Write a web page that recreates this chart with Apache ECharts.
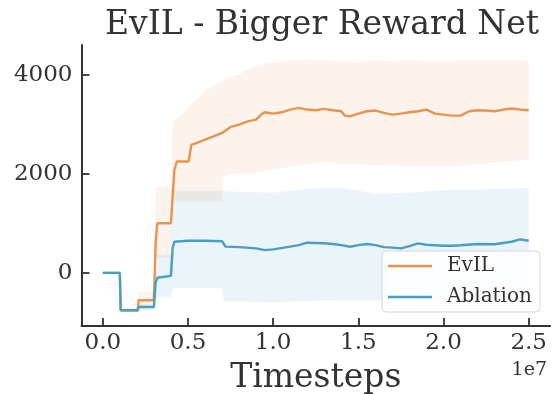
<!DOCTYPE html>
<html>
<head>
<meta charset="utf-8">
<script src="https://cdn.jsdelivr.net/npm/echarts@6/dist/echarts.min.js"></script>
<style>
  html, body { margin: 0; padding: 0; background: #fff; }
  #chart { width: 553px; height: 394px; }
</style>
</head>
<body>
<div id="chart"></div>
<script>
// Timesteps are stored in units of 1e7.
const evilX = [0, 0.10, 0.105, 0.205, 0.21, 0.30, 0.31, 0.32, 0.40, 0.42, 0.435, 0.504, 0.52, 0.55, 0.6, 0.65, 0.7, 0.75, 0.8, 0.85, 0.9, 0.93, 0.95, 1.0, 1.05, 1.1, 1.15, 1.2, 1.25, 1.3, 1.35, 1.4, 1.42, 1.45, 1.5, 1.55, 1.6, 1.65, 1.7, 1.75, 1.8, 1.85, 1.9, 1.95, 2.0, 2.05, 2.1, 2.15, 2.2, 2.25, 2.3, 2.35, 2.4, 2.45, 2.5];
const evilMean = [0, 0, -757, -757, -554, -554, 600, 1003, 1003, 2085, 2254, 2254, 2593, 2627, 2694, 2761, 2830, 2952, 2999, 3066, 3100, 3202, 3249, 3222, 3249, 3304, 3338, 3304, 3290, 3318, 3290, 3270, 3182, 3168, 3222, 3270, 3284, 3236, 3202, 3222, 3249, 3270, 3304, 3222, 3202, 3182, 3182, 3270, 3290, 3284, 3270, 3304, 3324, 3304, 3290];

const ablX = [0, 0.10, 0.105, 0.205, 0.21, 0.30, 0.31, 0.32, 0.40, 0.41, 0.42, 0.5, 0.6, 0.7, 0.72, 0.8, 0.9, 0.95, 1.0, 1.1, 1.15, 1.2, 1.3, 1.35, 1.4, 1.45, 1.5, 1.55, 1.6, 1.65, 1.7, 1.75, 1.8, 1.85, 1.9, 1.95, 2.0, 2.05, 2.1, 2.2, 2.3, 2.4, 2.45, 2.5];
const ablMean = [0, 0, -757, -757, -690, -690, -200, -100, -60, 500, 630, 650, 650, 640, 530, 520, 495, 461, 475, 530, 560, 610, 600, 583, 560, 529, 560, 583, 560, 520, 510, 495, 540, 597, 570, 560, 549, 550, 560, 583, 580, 630, 678, 650];

// Shaded spread around each mean
const evilBandX = [0, 0.10, 0.105, 0.205, 0.21, 0.30, 0.31, 0.40, 0.41, 0.45, 0.5, 0.55, 0.6, 0.65, 0.7, 0.71, 0.75, 0.8, 0.9, 1.0, 1.1, 1.2, 1.3, 1.4, 1.5, 1.6, 1.7, 1.8, 1.9, 2.0, 2.1, 2.2, 2.3, 2.4, 2.5];
const evilUpper = [0, 0, -740, -740, -390, -390, 1740, 1740, 3060, 3150, 3350, 3500, 3680, 3780, 3880, 3900, 3960, 4020, 4200, 4260, 4300, 4320, 4300, 4280, 4260, 4300, 4280, 4310, 4280, 4270, 4300, 4300, 4310, 4300, 4290];
const evilLower = [0, 0, -790, -790, -700, -700, 300, 300, 1440, 1440, 1440, 1440, 1445, 1450, 1460, 1950, 1990, 2000, 2025, 2086, 2150, 2190, 2250, 2200, 2190, 2180, 2170, 2160, 2150, 2153, 2160, 2200, 2230, 2260, 2288];

const ablBandX = [0, 0.10, 0.105, 0.205, 0.21, 0.30, 0.31, 0.40, 0.41, 0.7, 0.71, 0.8, 1.0, 1.2, 1.4, 1.6, 1.8, 2.0, 2.2, 2.4, 2.5];
const ablUpper = [0, 0, -720, -720, -640, -640, 360, 360, 1660, 1660, 1650, 1640, 1620, 1700, 1720, 1600, 1620, 1680, 1680, 1700, 1714];
const ablLower = [0, 0, -790, -790, -760, -760, -490, -490, -310, -310, -580, -580, -595, -570, -560, -560, -560, -555, -555, -555, -554];

const xTicks = [0, 0.5, 1.0, 1.5, 2.0, 2.5];
const yTicks = [0, 2000, 4000];

const ORANGE = '#e8944f';
const BLUE = '#4a9fc0';
const FONT = 'DejaVu Serif';
const INK = '#333333';

function zip(xs, ys) { return xs.map((x, i) => [x, ys[i]]); }

function bandSeries(xs, upper, lower, color) {
  return {
    type: 'custom',
    silent: true,
    z: 1,
    data: [[xs[0], upper[0]]],
    renderItem: function (params, api) {
      const pts = [];
      for (let i = 0; i < xs.length; i++) pts.push(api.coord([xs[i], upper[i]]));
      for (let i = xs.length - 1; i >= 0; i--) pts.push(api.coord([xs[i], lower[i]]));
      return {
        type: 'polygon',
        shape: { points: pts },
        style: { fill: color, opacity: 0.11 }
      };
    }
  };
}

const chart = echarts.init(document.getElementById('chart'), null, { renderer: 'canvas' });
chart.setOption({
  animation: false,
  backgroundColor: '#ffffff',
  title: {
    text: 'EvIL - Bigger Reward Net',
    left: 317,
    top: 4,
    textAlign: 'center',
    textStyle: { fontFamily: FONT, fontSize: 33, fontWeight: 'normal', color: INK }
  },
  grid: { left: 81.5, right: 3, top: 45, bottom: 68, containLabel: false, outerBoundsMode: 'none' },
  xAxis: {
    type: 'value',
    min: -0.125,
    max: 2.625,
    name: 'Timesteps',
    nameLocation: 'middle',
    nameGap: 36,
    nameTextStyle: { fontFamily: FONT, fontSize: 33, color: INK },
    splitLine: { show: false },
    axisLine: { onZero: false, lineStyle: { color: INK, width: 2 } },
    axisTick: { inside: true, length: 8, lineStyle: { color: INK, width: 1.8 }, customValues: xTicks },
    axisLabel: {
      customValues: xTicks,
      margin: 6,
      fontFamily: FONT, fontSize: 23, color: INK,
      formatter: v => v.toFixed(1)
    }
  },
  yAxis: {
    type: 'value',
    min: -1075,
    max: 4610,
    splitLine: { show: false },
    axisLine: { show: true, onZero: false, lineStyle: { color: INK, width: 2 } },
    axisTick: { show: true, inside: true, length: 8, lineStyle: { color: INK, width: 1.8 }, customValues: yTicks },
    axisLabel: { customValues: yTicks, margin: 9, fontFamily: FONT, fontSize: 23, color: INK, formatter: v => String(v) }
  },
  legend: {
    data: ['EvIL', 'Ablation'],
    orient: 'vertical',
    left: 382,
    top: 251,
    icon: 'rect',
    itemWidth: 44,
    itemHeight: 2.5,
    itemGap: 11,
    padding: [5, 8, 5, 6],
    backgroundColor: 'rgba(255,255,255,0.8)',
    borderColor: '#d6d6d6',
    borderWidth: 1,
    borderRadius: 4,
    textStyle: { fontFamily: FONT, fontSize: 20, color: INK, padding: [0, 0, 0, 10] }
  },
  graphic: [{
    type: 'text',
    right: 6,
    top: 361,
    style: { text: '1e7', font: '19px "DejaVu Serif"', fill: INK }
  }],
  series: [
    bandSeries(evilBandX, evilUpper, evilLower, ORANGE),
    bandSeries(ablBandX, ablUpper, ablLower, BLUE),
    {
      name: 'EvIL', type: 'line', z: 3, showSymbol: false, symbol: 'none',
      color: ORANGE, lineStyle: { width: 2.4, color: ORANGE },
      data: zip(evilX, evilMean)
    },
    {
      name: 'Ablation', type: 'line', z: 3, showSymbol: false, symbol: 'none',
      color: BLUE, lineStyle: { width: 2.4, color: BLUE },
      data: zip(ablX, ablMean)
    }
  ]
});
</script>
</body>
</html>
